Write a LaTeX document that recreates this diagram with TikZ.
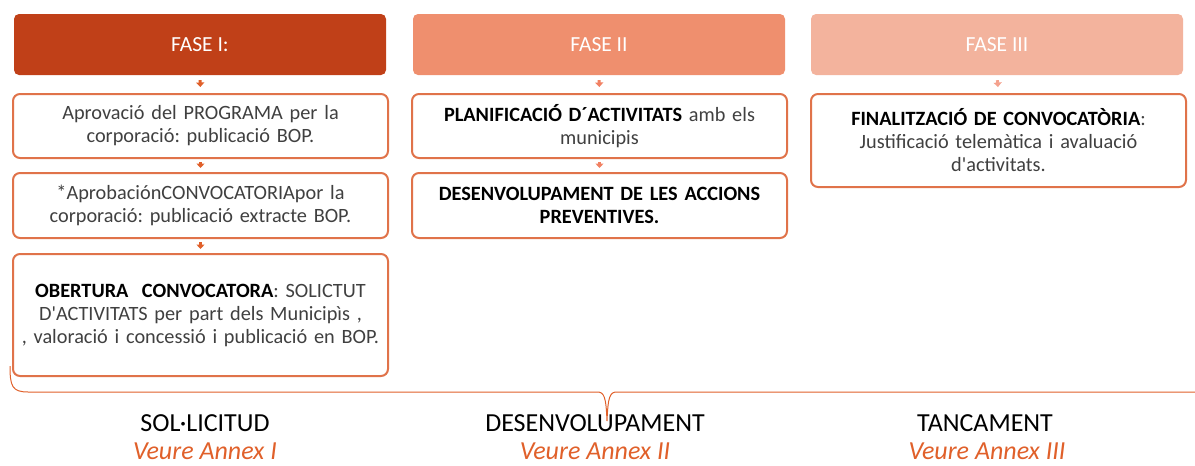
\documentclass[tikz,border=0pt]{standalone}
\usepackage{fontspec}
\setmainfont{Carlito}[Ligatures=TeXOff]
\usetikzlibrary{arrows.meta}
\definecolor{hdrA}{HTML}{C04018}
\definecolor{hdrB}{HTML}{EF8F6E}
\definecolor{hdrC}{HTML}{F3B39D}
\definecolor{edgeA}{HTML}{E0734A}
\definecolor{bodytxt}{HTML}{404040}
\definecolor{annex}{HTML}{E0602A}
\frenchspacing
\begin{document}
\begin{tikzpicture}[x=1pt,y=-1pt,
  hdr/.style={rectangle, rounded corners=5pt, minimum width=372pt, minimum height=61pt,
    text=white, font=\fontsize{21.5}{25}\selectfont, inner sep=0pt},
  stepbox/.style={rectangle, rounded corners=7pt, draw=edgeA, line width=2pt, fill=white,
    minimum width=375pt, text width=372pt, align=center,
    font=\fontsize{20.3}{23}\selectfont, text=bodytxt, inner sep=0pt},
  tinyarr/.style={line width=3pt, -{Triangle[width=8pt,length=4.5pt]}},
  phase/.style={font=\fontsize{26}{30}\selectfont, text=black, anchor=base, inner sep=0pt},
  annexlbl/.style={font=\fontsize{26}{30}\selectfont\itshape, text=annex, anchor=base, inner sep=0pt},
  bracecol/.style={draw=annex, line width=1pt}
]
\useasboundingbox (0,0) rectangle (1195,466);

% headers
\node[hdr, fill=hdrA] (h1) at (200,44.5) {FASE I:};
\node[hdr, fill=hdrB] (h2) at (599,44.5) {FASE II};
\node[hdr, fill=hdrC] (h3) at (997,44.5) {FASE III};

% column 1
\node[stepbox, minimum height=64pt] (a1) at (200.5,126)
  {Aprovació del PROGRAMA per la\\corporació: publicació BOP.};
\node[stepbox, minimum height=65pt] (a2) at (200.5,205.5)
  {*AprobaciónCONVOCATORIApor la\\corporació: publicació extracte BOP.};
\node[stepbox, minimum height=122pt] (a3) at (200.5,315)
  {\textcolor{black}{\textbf{OBERTURA\ \ CONVOCATORA}}: SOLICTUT\\D'ACTIVITATS per part dels Municipìs ,\\, valoració i concessió i publicació en BOP.};

% column 2
\node[stepbox, minimum height=64pt] (b1) at (599.5,126)
  {\textcolor{black}{\textbf{PLANIFICACIÓ D´ACTIVITATS}} amb els\\municipis};
\node[stepbox, minimum height=65pt] (b2) at (599.5,205.5)
  {\textcolor{black}{\textbf{DESENVOLUPAMENT DE LES ACCIONS}}\\\textcolor{black}{\textbf{PREVENTIVES.}}};

% column 3
\node[stepbox, minimum height=93pt] (c1) at (998.5,140.5)
  {\textcolor{black}{\textbf{FINALITZACIÓ DE CONVOCATÒRIA}}:\\Justificació telemàtica i avaluació\\d'activitats.};

% small arrows
\draw[tinyarr, draw=annex, fill=annex, shorten <=5pt, shorten >=6pt] (h1.south) -- (a1.north);
\draw[tinyarr, draw=annex, fill=annex, shorten <=3pt, shorten >=4pt] (a1.south) -- (a2.north);
\draw[tinyarr, draw=annex, fill=annex, shorten <=3pt, shorten >=4pt] (a2.south) -- (a3.north);
\draw[tinyarr, draw=hdrB!90!red, fill=hdrB!90!red, shorten <=5pt, shorten >=6pt] (h2.south) -- (b1.north);
\draw[tinyarr, draw=hdrB!90!red, fill=hdrB!90!red, shorten <=3pt, shorten >=4pt] (b1.south) -- (b2.north);
\draw[tinyarr, draw=hdrC!90!red, fill=hdrC!90!red, shorten <=5pt, shorten >=6pt] (h3.south) -- (c1.north);

% brace
\draw[bracecol] (10,366) .. controls (10,386) and (12,392) .. (28,392)
  -- (597,392) .. controls (604,392) and (606,396) .. (607,421)
  .. controls (608,396) and (610,392) .. (617,392) -- (1195,392);

% bottom labels
\node[phase] (p1) at (205,431) {SOL·LICITUD};
\node[phase] (p2) at (595,431) {DESENVOLUPAMENT};
\node[phase] (p3) at (985,431) {TANCAMENT};
\node[annexlbl] (x1) at (205,459) {Veure Annex I};
\node[annexlbl] (x2) at (595,459) {Veure Annex II};
\node[annexlbl] (x3) at (987,459) {Veure Annex III};
\end{tikzpicture}
\end{document}
